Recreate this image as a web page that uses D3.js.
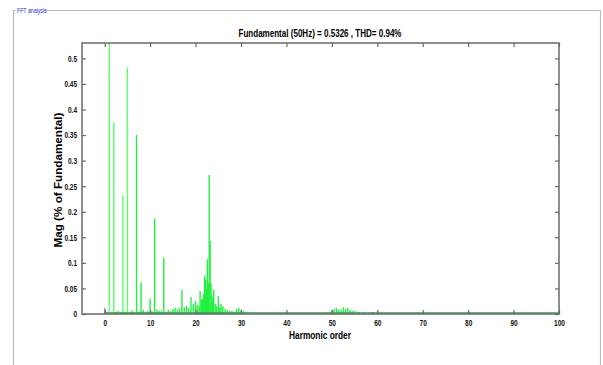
<!DOCTYPE html>
<html>
<head>
<meta charset="utf-8">
<script src="https://cdn.jsdelivr.net/npm/d3@7"></script>
<style>
  body { margin: 0; background: #fff; }
  text { font-family: "Liberation Sans", Arial, sans-serif; }
</style>
</head>
<body>
<div id="root"></div>
<script>
const width = 603;
const height = 365;

// main harmonics (order, magnitude)
const mainOrders = [0, 1, 2, 4, 5, 7, 8, 10, 11, 13, 17, 19, 21, 22, 22.2, 22.6, 23, 23.2, 24, 25];
const mainMags   = [0.012, 0.56, 0.375, 0.232, 0.482, 0.35, 0.062, 0.03, 0.187, 0.11, 0.047, 0.033, 0.045, 0.075, 0.068, 0.107, 0.272, 0.143, 0.048, 0.035];

// interharmonic clutter
const noiseOrders = [
  1.5, 2.5, 3, 3.5, 4.5, 5.5, 6, 6.5, 7.5, 8.5, 9, 9.5, 10.5, 11.5, 12, 12.5, 13.5, 14, 14.5, 15,
  15.5, 16, 16.5, 17.5, 18, 18.5, 19.5, 20, 20.4, 20.8, 21.3, 21.5, 21.8, 22.4, 22.8, 23.4, 23.6, 23.8, 24.3, 24.6,
  25.3, 25.6, 26, 26.5, 27, 27.5, 28, 28.5, 29, 29.5, 30, 30.5, 31, 32, 33, 34,
  48, 49, 50, 50.5, 51, 51.5, 52, 52.5, 53, 53.5, 54, 54.5, 55, 56, 57, 58, 59, 62, 65
];
const noiseMags = [
  0.003, 0.004, 0.006, 0.003, 0.005, 0.004, 0.007, 0.003, 0.005, 0.008, 0.004, 0.006, 0.005, 0.009, 0.006, 0.007, 0.004, 0.008, 0.006, 0.01,
  0.012, 0.009, 0.011, 0.013, 0.016, 0.012, 0.02, 0.025, 0.018, 0.015, 0.028, 0.03, 0.04, 0.05, 0.06, 0.06, 0.035, 0.03, 0.02, 0.015,
  0.012, 0.02, 0.015, 0.01, 0.008, 0.006, 0.006, 0.004, 0.01, 0.012, 0.008, 0.006, 0.004, 0.003, 0.002, 0.002,
  0.002, 0.003, 0.008, 0.01, 0.012, 0.009, 0.008, 0.013, 0.01, 0.012, 0.008, 0.006, 0.006, 0.004, 0.003, 0.002, 0.004, 0.002, 0.001
];

const xTicks = [0, 10, 20, 30, 40, 50, 60, 70, 80, 90, 100];
const yTicks = [0, 0.05, 0.1, 0.15, 0.2, 0.25, 0.3, 0.35, 0.4, 0.45, 0.5];

const title = 'Fundamental (50Hz) = 0.5326 , THD= 0.94%';

const plot = {left: 82, right: 559, top: 43, bottom: 314};

const svg = d3.select('#root')
  .append('svg')
  .attr('width', width).attr('height', height);

// squeeze text horizontally to mimic the condensed bold font
function squeeze(sel, k) {
  sel.each(function() {
    const w = this.getComputedTextLength();
    d3.select(this).attr('textLength', w * k).attr('lengthAdjust', 'spacingAndGlyphs');
  });
}

// outer panel frame
svg.append('path')
  .attr('d', `M45,10.5 H${width - 2.5} V${height} M13.5,${height} V10.5 H16`)
  .attr('fill', 'none').attr('stroke', '#bdbdbd').attr('stroke-width', 1.2);
svg.append('text')
  .attr('x', 17).attr('y', 12.5)
  .attr('font-size', 6.5).attr('fill', '#1a2fd0')
  .text('FFT analysis')
  .call(squeeze, 0.8);

var xScale = d3.scaleLinear().domain([-5, 100]).range([plot.left, plot.right]);
var yScale = d3.scaleLinear().domain([0, 0.53]).range([plot.bottom, plot.top]);

svg.append('defs').append('clipPath').attr('id', 'clip')
  .append('rect')
  .attr('x', plot.left).attr('y', plot.top)
  .attr('width', plot.right - plot.left).attr('height', plot.bottom - plot.top);

const bars = svg.append('g').attr('clip-path', 'url(#clip)');
const bw = 1.4;

bars.selectAll('.noise')
  .data(noiseOrders).enter()
  .append('rect')
  .attr('x', d => xScale(d) - bw / 2)
  .attr('y', (d, i) => yScale(noiseMags[i]))
  .attr('width', bw)
  .attr('height', (d, i) => plot.bottom - yScale(noiseMags[i]))
  .attr('fill', '#19f23c');

bars.selectAll('.main')
  .data(mainOrders).enter()
  .append('rect')
  .attr('x', d => xScale(d) - bw / 2)
  .attr('y', (d, i) => yScale(mainMags[i]))
  .attr('width', bw)
  .attr('height', (d, i) => plot.bottom - yScale(mainMags[i]))
  .attr('fill', d => d === 0 ? '#8a9a8a' : (d < 6 ? '#5cff6a' : '#22f040'));

// green baseline
bars.append('line')
  .attr('x1', xScale(0)).attr('x2', xScale(100))
  .attr('y1', plot.bottom - 1).attr('y2', plot.bottom - 1)
  .attr('stroke', '#2f9e4f').attr('stroke-width', 1.5);

// axes box and ticks
const axisColor = '#6a6a6a';
var xAxis = d3.axisBottom(xScale).tickValues(xTicks).tickSize(-4).tickPadding(6).tickFormat(d3.format('d'));
var xAxisTop = d3.axisTop(xScale).tickValues(xTicks).tickSize(-4).tickFormat('');
var yAxis = d3.axisLeft(yScale).tickValues(yTicks).tickSize(-4).tickPadding(5).tickFormat(d => String(d));
var yAxisRight = d3.axisRight(yScale).tickValues(yTicks).tickSize(-4).tickFormat('');

function style(g) {
  g.select('.domain').remove();
  g.selectAll('line').attr('stroke', axisColor).attr('stroke-width', 1.2);
  g.selectAll('text').attr('font-size', 9).attr('font-weight', 'bold').attr('fill', '#111')
    .call(squeeze, 0.72);
}

svg.append('g').attr('transform', `translate(0, ${plot.bottom})`).call(xAxis).call(style);
svg.append('g').attr('transform', `translate(0, ${plot.top})`).call(xAxisTop).call(style);
svg.append('g').attr('transform', `translate(${plot.left}, 0)`).call(yAxis).call(style);
svg.append('g').attr('transform', `translate(${plot.right}, 0)`).call(yAxisRight).call(style);

svg.append('rect')
  .attr('x', plot.left).attr('y', plot.top)
  .attr('width', plot.right - plot.left).attr('height', plot.bottom - plot.top)
  .attr('fill', 'none').attr('stroke', axisColor).attr('stroke-width', 1.5);

svg.append('text')
  .attr('x', 320).attr('y', 37)
  .attr('text-anchor', 'middle')
  .attr('font-size', 11).attr('font-weight', 'bold')
  .attr('textLength', 163).attr('lengthAdjust', 'spacingAndGlyphs')
  .text(title);

svg.append('text')
  .attr('x', 320).attr('y', 339)
  .attr('text-anchor', 'middle')
  .attr('font-size', 11).attr('font-weight', 'bold')
  .attr('textLength', 62).attr('lengthAdjust', 'spacingAndGlyphs')
  .text('Harmonic order');

svg.append('text')
  .attr('transform', `translate(62, 180) rotate(-90)`)
  .attr('text-anchor', 'middle')
  .attr('font-size', 10.5).attr('font-weight', 'bold')
  .attr('textLength', 135).attr('lengthAdjust', 'spacingAndGlyphs')
  .text('Mag (% of Fundamental)');
</script>
</body>
</html>
